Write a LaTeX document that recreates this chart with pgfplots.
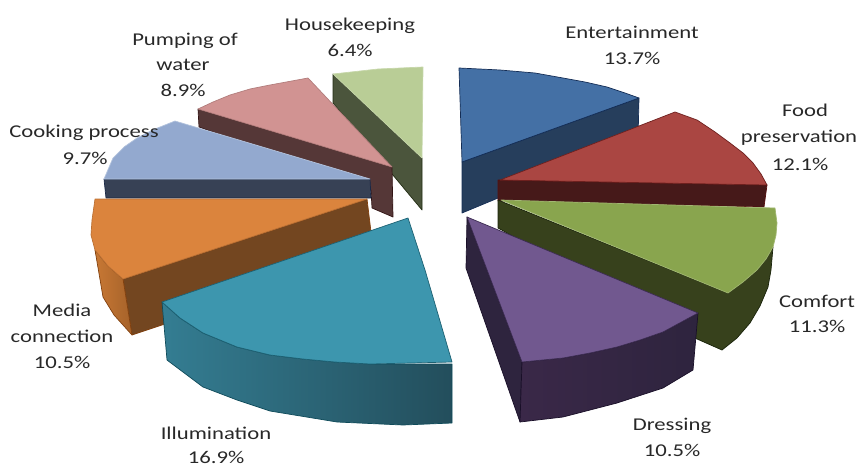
\documentclass[border=0pt]{standalone}
\usepackage{fontspec}
\setmainfont{Carlito}
\usepackage{pgfplots}
\pgfplotsset{compat=1.18}
\definecolor{bluT}{RGB}{68,112,165}\definecolor{bluS}{RGB}{38,62,92}\definecolor{bluE}{RGB}{20,45,85}
\definecolor{redT}{RGB}{170,70,66}\definecolor{redS}{RGB}{70,25,25}\definecolor{redE}{RGB}{85,15,15}
\definecolor{greT}{RGB}{137,165,78}\definecolor{greS}{RGB}{55,65,28}\definecolor{greE}{RGB}{25,35,10}
\definecolor{purT}{RGB}{113,88,143}\definecolor{purS}{RGB}{46,36,62}\definecolor{purF}{RGB}{58,40,72}\definecolor{purE}{RGB}{25,15,40}
\definecolor{teaT}{RGB}{61,150,174}\definecolor{teaL}{RGB}{52,125,146}\definecolor{teaR}{RGB}{35,78,92}\definecolor{teaE}{RGB}{15,75,90}
\definecolor{oraT}{RGB}{219,132,61}\definecolor{oraS}{RGB}{115,70,32}\definecolor{oraL}{RGB}{200,120,52}\definecolor{oraR}{RGB}{165,98,42}\definecolor{oraE}{RGB}{130,65,15}
\definecolor{cooT}{RGB}{147,169,207}\definecolor{cooS}{RGB}{55,65,85}\definecolor{cooE}{RGB}{25,40,70}
\definecolor{pinT}{RGB}{209,147,146}\definecolor{pinS}{RGB}{85,55,55}\definecolor{pinE}{RGB}{50,20,20}
\definecolor{houT}{RGB}{185,205,150}\definecolor{houS}{RGB}{75,85,60}\definecolor{houE}{RGB}{35,45,20}
\definecolor{lab}{RGB}{40,40,40}
\newcommand{\wid}[1]{\scalebox{1.26}[1]{#1}}
\begin{document}
\begin{tikzpicture}
\begin{axis}[
  width=858pt,height=466pt,scale only axis,
  xmin=0,xmax=858,ymin=0,ymax=466,y dir=reverse,
  hide axis,clip=false,
  every axis plot/.append style={line join=round,line width=0.7pt,no markers},
]
\path (axis cs:0,0) rectangle (axis cs:858,466);
% Housekeeping
\addplot[draw=houE,fill=houS] coordinates {(333,74)(422,158)(422,210)(333,103)} -- cycle;
\addplot[draw=houT!80!white,fill=houT] coordinates {(333,74)(378,69)(423,67)(422,158)} -- cycle;
% Pumping of water
\addplot[draw=pinE,fill=pinS] coordinates {(198,109)(392,167)(393,217)(372,208)(371,190)(199,127)} -- cycle;
\addplot[draw=pinT!85!black,fill=pinT] coordinates {(198,109)(213,102)(230,95)(250,89)(270,85)(308,78)(392,167)} -- cycle;
% Entertainment
\addplot[draw=bluE,fill=bluS] coordinates {(462,162)(639,98)(638,140)(462,213)} -- cycle;
\addplot[draw=bluE,fill=bluT] coordinates {(459,68)(500,70)(535,73)(563,78)(585,82)(607,87)(625,93)(639,98)(462,162)} -- cycle;
% Food preservation
\addplot[draw=redE,fill=redS] coordinates {(498,180)(767,185)(764,207)(498,201)} -- cycle;
\addplot[draw=redE!70!redT,fill=redT] coordinates {(500,180)(675,112)(697,120)(715,132)(730,143)(743,153)(753,163)(761,174)(767,185)} -- cycle;
% Comfort
\addplot[draw=greE,fill=greS] coordinates {(498,200)(728,293)(757,270)(773,247)(771,270)(768,287)(760,306)(750,323)(737,338)(722,350)(697,339)(498,228)} -- cycle;
\addplot[draw=greT!80!white,fill=greT] coordinates {(501,200)(775,208)(777,223)(776,235)(773,247)(766,259)(757,270)(743,282)(728,293)} -- cycle;
% Cooking process
\addplot[draw=cooE,fill=cooS] coordinates {(104,179)(370,179)(371,198)(106,198)} -- cycle;
\addplot[draw=cooT!70!white,fill=cooT] coordinates {(104,179)(113,158)(124,147)(137,138)(155,129)(175,121)(370,179)} -- cycle;
% Media connection
\addplot[draw=oraE,fill=oraS] coordinates {(367,199)(123,279)(132,335)(162,325)(372,240)} -- cycle;
\addplot[draw=oraE,left color=oraL,right color=oraR] coordinates {(95,250)(108,266)(123,279)(132,335)(114,315)(103,297)} -- cycle;
\addplot[draw=oraT!85!black,fill=oraT] coordinates {(95,199)(367,199)(123,279)(108,266)(95,250)(91,235)(92,220)} -- cycle;
% Dressing
\addplot[draw=purE,fill=purS] coordinates {(467,217)(522,362)(520,422)(466,268)} -- cycle;
\addplot[draw=purE,left color=purF,right color=purS] coordinates {(522,362)(563,358)(590,353)(617,347)(640,340)(663,332)(698,313)(693,370)(663,388)(617,403)(563,417)(520,422)} -- cycle;
\addplot[draw=purE!60!purT,fill=purT] coordinates {(467,217)(698,313)(663,332)(640,340)(617,347)(590,353)(563,358)(522,362)} -- cycle;
% Illumination
\addplot[draw=teaE,left color=teaL,right color=teaR] coordinates {(162,302)(180,318)(203,333)(237,347)(270,355)(303,359)(335,362)(370,364)(452,364)(452,423)(403,425)(337,422)(270,411)(237,400)(203,387)(167,360)} -- cycle;
\addplot[draw=teaE!70!teaT,fill=teaT] coordinates {(408,218)(425,270)(452,362)(370,364)(335,362)(303,359)(270,355)(237,347)(203,333)(180,318)(162,302)} -- cycle;
% labels
\begin{scope}[every node/.style={font=\fontsize{18}{20}\selectfont,text=lab,inner sep=0pt,anchor=base}]
\node at (axis cs:632,38) {\wid{Entertainment}};
\node at (axis cs:632,64) {\wid{13.7\%}};
\node at (axis cs:805,116) {\wid{Food}};
\node at (axis cs:799,142) {\wid{preservation}};
\node at (axis cs:800,170) {\wid{12.1\%}};
\node at (axis cs:817,307) {\wid{Comfort}};
\node at (axis cs:817,332) {\wid{11.3\%}};
\node at (axis cs:672,430) {\wid{Dressing}};
\node at (axis cs:672,456) {\wid{10.5\%}};
\node at (axis cs:216,439) {\wid{Illumination}};
\node at (axis cs:216,463) {\wid{16.9\%}};
\node at (axis cs:62,316) {\wid{Media}};
\node at (axis cs:62,342) {\wid{connection}};
\node at (axis cs:62,368) {\wid{10.5\%}};
\node at (axis cs:84,137) {\wid{Cooking process}};
\node at (axis cs:85,164) {\wid{9.7\%}};
\node at (axis cs:185,45) {\wid{Pumping of}};
\node at (axis cs:183,70) {\wid{water}};
\node at (axis cs:183,96) {\wid{8.9\%}};
\node at (axis cs:350,30) {\wid{Housekeeping}};
\node at (axis cs:350,56) {\wid{6.4\%}};
\end{scope}
\end{axis}
\end{tikzpicture}
\end{document}
